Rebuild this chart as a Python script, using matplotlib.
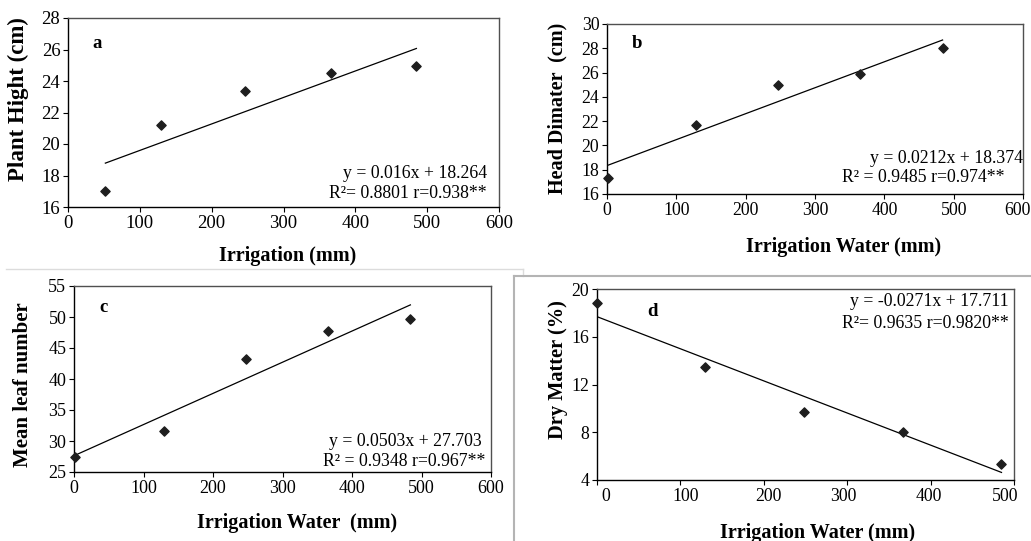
import numpy as np
import matplotlib
matplotlib.use("Agg")
import matplotlib.pyplot as plt
from matplotlib.lines import Line2D
from matplotlib.transforms import ScaledTranslation

plt.rcParams['font.family'] = ['Liberation Serif', 'DejaVu Serif']

W, H = 1031, 541

# --- data ---
irr_a = [52, 129, 247, 366, 485]
plant_height = [17.0, 21.23, 23.36, 24.53, 24.94]

irr_b = [1, 129, 247, 365, 484]
head_diameter = [17.3, 21.7, 25.0, 25.9, 28.0]

irr_c = [1, 129, 248, 365, 484]
leaf_number = [27.5, 31.6, 43.3, 47.8, 49.6]

irr_d = [0, 129, 248, 367, 485]
dry_matter = [18.8, 13.5, 9.7, 8.0, 5.35]

eq_a = ["y = 0.016x + 18.264", "R²= 0.8801 r=0.938**"]
eq_b = ["y = 0.0212x + 18.374", "R² = 0.9485 r=0.974**"]
eq_c = ["y = 0.0503x + 27.703", "R² = 0.9348 r=0.967**"]
eq_d = ["y = -0.0271x + 17.711", "R²= 0.9635 r=0.9820**"]

# panel d x labels sit a little off their tick marks in the original
d_label_pos = [11, 106, 205, 295, 398, 489]
d_labels = ['0', '100', '200', '300', '400', '500']


def px_axes(fig, left, top, right, bottom):
    return fig.add_axes([left / W, 1 - bottom / H, (right - left) / W, (bottom - top) / H])


def ftext(fig, x, y, s, **kw):
    fig.text(x / W, 1 - y / H, s, **kw)


def panel(ax, x, y, xlim, xticks, ylim, yticks, tick_size):
    ax.scatter(x, y, marker='D', s=22, color='#1e1e1e', zorder=3, clip_on=False)
    k, b = np.polyfit(x, y, 1)
    xs = np.array([min(x), max(x)])
    ax.plot(xs, k * xs + b, color='black', lw=0.9)
    ax.set_xlim(*xlim)
    ax.set_ylim(*ylim)
    ax.set_xticks(xticks)
    ax.set_yticks(yticks)
    ax.tick_params(direction='out', length=3.5, width=0.8, labelsize=tick_size, pad=2)
    for s in ['left', 'bottom']:
        ax.spines[s].set_color('black')
        ax.spines[s].set_linewidth(1.0)
    for s in ['top', 'right']:
        ax.spines[s].set_color('#505050')
        ax.spines[s].set_linewidth(1.0)


fig = plt.figure(figsize=(W / 100, H / 100), dpi=100)

# chart-area borders (Excel style)
fig.add_artist(Line2D([6 / W, 523 / W], [1 - 269 / H, 1 - 269 / H], color='#dcdcdc', lw=1))
fig.add_artist(Line2D([523 / W, 523 / W], [1 - 269 / H, 1 - 276 / H], color='#dcdcdc', lw=1))
fig.add_artist(Line2D([514 / W, 1031 / W], [1 - 276 / H, 1 - 276 / H], color='#b4b4b4', lw=1.5))
fig.add_artist(Line2D([514 / W, 514 / W], [1 - 276 / H, 0], color='#b4b4b4', lw=1.5))

eq_size = 12.8

# --- a ---
ax = px_axes(fig, 68, 18, 499, 207)
panel(ax, irr_a, plant_height, (0, 600), range(0, 601, 100), (16, 28), range(16, 29, 2), 13.5)
ftext(fig, 97, 44, "a", fontsize=13.5, fontweight='bold', ha='center', va='center')
ftext(fig, 487, 173, eq_a[0], fontsize=eq_size, ha='right', va='center')
ftext(fig, 487, 193, eq_a[1], fontsize=eq_size, ha='right', va='center')
ftext(fig, 18, 99, "Plant Hight (cm)", fontsize=16.5, fontweight='bold', rotation=90, ha='center', va='center')
ftext(fig, 288, 256, "Irrigation (mm)", fontsize=14.5, fontweight='bold', ha='center', va='center')

# --- b ---
ax = px_axes(fig, 607, 24, 1023, 194)
panel(ax, irr_b, head_diameter, (0, 600), range(0, 601, 100), (16, 30), range(16, 31, 2), 12.8)
last = ax.get_xticklabels()[-1]
last.set_transform(last.get_transform() + ScaledTranslation(-6 / 100, 0, fig.dpi_scale_trans))
ftext(fig, 637, 43, "b", fontsize=13.5, fontweight='bold', ha='center', va='center')
ftext(fig, 1023, 159, eq_b[0], fontsize=eq_size, ha='right', va='center')
ftext(fig, 1004, 178, eq_b[1], fontsize=eq_size, ha='right', va='center')
ftext(fig, 557, 108, "Head Dimater  (cm)", fontsize=14.5, fontweight='bold', rotation=90, ha='center', va='center')
ftext(fig, 844, 247, "Irrigation Water (mm)", fontsize=14.5, fontweight='bold', ha='center', va='center')

# --- c ---
ax = px_axes(fig, 74, 286, 491, 472)
panel(ax, irr_c, leaf_number, (0, 600), range(0, 601, 100), (25, 55), range(25, 56, 5), 13)
ftext(fig, 103, 307, "c", fontsize=13.5, fontweight='bold', ha='center', va='center')
ftext(fig, 482, 442, eq_c[0], fontsize=eq_size, ha='right', va='center')
ftext(fig, 485, 462, eq_c[1], fontsize=eq_size, ha='right', va='center')
ftext(fig, 23, 385, "Mean leaf number", fontsize=15, fontweight='bold', rotation=90, ha='center', va='center')
ftext(fig, 297, 523, "Irrigation Water  (mm)", fontsize=14.5, fontweight='bold', ha='center', va='center')

# --- d ---
ax = px_axes(fig, 597, 289, 1014, 480)
panel(ax, irr_d, dry_matter, (0, 500), range(0, 501, 100), (4, 20), range(4, 21, 4), 12.8)
ax.set_xticklabels([])
ax.set_xticks(d_label_pos, minor=True)
ax.set_xticklabels(d_labels, minor=True)
ax.tick_params(axis='x', which='minor', length=0, labelsize=12.8, pad=5.5)
ftext(fig, 653, 312, "d", fontsize=13.5, fontweight='bold', ha='center', va='center')
ftext(fig, 1009, 302, eq_d[0], fontsize=eq_size, ha='right', va='center')
ftext(fig, 1009, 323, eq_d[1], fontsize=eq_size, ha='right', va='center')
ftext(fig, 558, 370, "Dry Matter (%)", fontsize=14.7, fontweight='bold', rotation=90, ha='center', va='center')
ftext(fig, 818, 533, "Irrigation Water (mm)", fontsize=14.5, fontweight='bold', ha='center', va='center')

fig.savefig("out.png", dpi=100, facecolor='white')
